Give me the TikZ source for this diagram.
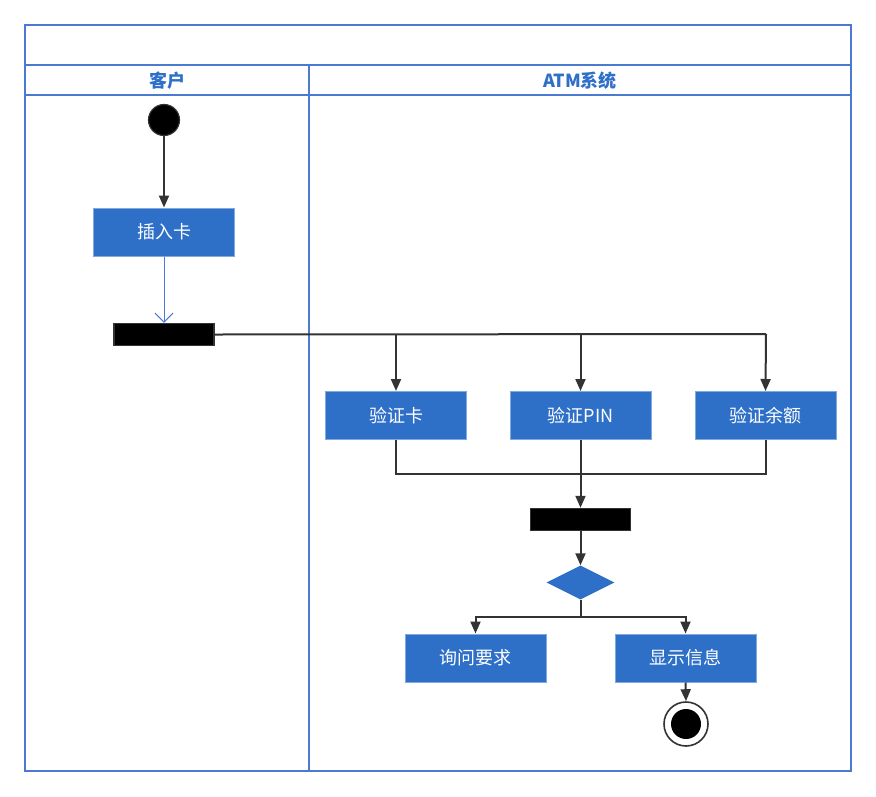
\documentclass[tikz,border=0pt]{standalone}
\usepackage{fontspec}
\setmainfont{Noto Sans CJK SC}
\usetikzlibrary{arrows.meta,shapes.geometric}
\definecolor{frameblue}{HTML}{4A7BD0}
\definecolor{boxblue}{HTML}{2E6FC8}
\definecolor{edgegray}{HTML}{333333}
\tikzset{
  act/.style={draw=boxblue!60!white, fill=boxblue, text=white, minimum width=141pt, minimum height=48pt, inner sep=0pt, font=\fontsize{18}{20}\selectfont, line width=1pt},
  bar/.style={draw=edgegray, fill=black, minimum width=100pt, minimum height=22pt, inner sep=0pt, line width=1.5pt},
  flow/.style={draw=edgegray, line width=2pt, -{Triangle[length=12pt,width=10pt]}},
  flowline/.style={draw=edgegray, line width=2pt},
  lanehead/.style={text=boxblue, font=\fontsize{18}{20}\selectfont\bfseries},
  laneline/.style={draw=frameblue, line width=1.1pt}
}
\begin{document}
\begin{tikzpicture}[x=1pt,y=-1pt]
\useasboundingbox (0,0) rectangle (876,796);
% frame
\draw[laneline] (25,25) rectangle (851,771);
\draw[laneline] (25,65) -- (851,65);
\draw[laneline] (25,95) -- (851,95);
\draw[laneline] (309,65) -- (309,771);
\node[lanehead] (h1) at (167,80.5) {客户};
\node[lanehead] (h2) at (580,80.5) {ATM系统};
% nodes
\node[circle, draw=edgegray, fill=black, minimum size=31pt, inner sep=0pt, line width=1.2pt] (start) at (164,120) {};
\node[act] (insert) at (164,232) {插入卡};
\node[bar] (fork) at (164,334.5) {};
\node[act] (vcard) at (396,415.5) {验证卡};
\node[act] (vpin) at (580.5,415.5) {验证PIN};
\node[act] (vbal) at (765.5,415.5) {验证余额};
\node[bar] (join) at (580.5,519.5) {};
\node[diamond, fill=boxblue, minimum width=68pt, minimum height=34pt, inner sep=0pt, aspect=2] (dec) at (580.5,582.5) {};
\node[act] (ask) at (475.5,658) {询问要求};
\node[act] (show) at (685.5,658) {显示信息};
\node[circle, draw=edgegray, minimum size=44pt, inner sep=0pt, line width=1.6pt] (endo) at (686,724) {};
\node[circle, fill=black, minimum size=30pt, inner sep=0pt] (endi) at (686,724) {};
% connectors
\draw[flow] (start) -- (insert);
\draw[draw=frameblue, line width=1pt, -{Straight Barb[length=9pt,width=18pt]}] (insert) -- (fork);
\coordinate (fr) at (766,334);
\draw[flowline] (fork.east) -- (fr);
\draw[flow] (396,334) -- (vcard.north);
\draw[flow] (580.5,334) -- (vpin.north);
\draw[flow] (fr) -- (vbal.north);
\draw[flowline] (vcard.south) |- (580.5,474);
\draw[flowline] (vbal.south) |- (580.5,474);
\draw[flow] (vpin.south) -- (join.north);
\draw[flow] (join.south) -- (dec.north);
\coordinate (dsplit) at (580.5,617);
\draw[flowline] (dec.south) -- (dsplit);
\draw[flow] (dsplit) -| (ask.north);
\draw[flow] (dsplit) -| (show.north);
\draw[flow] (show.south) -- (endo.north);
\end{tikzpicture}
\end{document}
